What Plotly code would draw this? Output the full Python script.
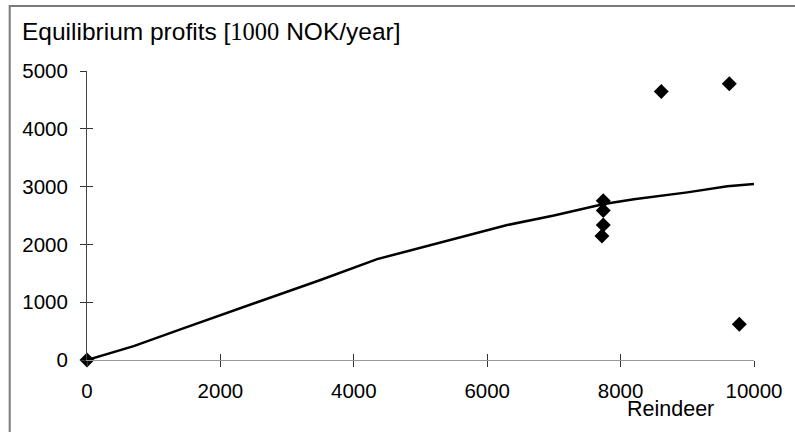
import plotly.graph_objects as go

# Data
curve_x = [0, 700, 1400, 2100, 2800, 3500, 4350, 5000, 5650, 6300, 7000, 7750, 8200, 9000, 9600, 10000]
curve_y = [0, 240, 530, 815, 1100, 1385, 1745, 1940, 2135, 2335, 2500, 2700, 2780, 2900, 3005, 3045]

obs_x = [0, 7740, 7740, 7740, 7720, 8610, 9630, 9780]
obs_y = [0, 2755, 2585, 2335, 2145, 4645, 4780, 620]

x_ticks = [0, 2000, 4000, 6000, 8000, 10000]
y_ticks = [0, 1000, 2000, 3000, 4000, 5000]

title_text = "Equilibrium profits [<span style='font-family:Liberation Serif'>1000</span> NOK/year]"
x_label = "Reindeer"

FONT = "Liberation Sans, Arial, sans-serif"

fig = go.Figure()
fig.add_trace(go.Scatter(x=curve_x, y=curve_y, mode="lines",
                         line=dict(color="black", width=2.5),
                         xaxis="x2", yaxis="y2", showlegend=False, hoverinfo="skip"))
fig.add_trace(go.Scatter(x=obs_x, y=obs_y, mode="markers", cliponaxis=False,
                         marker=dict(symbol="diamond", size=11.5, color="black"),
                         showlegend=False))

fig.update_layout(
    width=795, height=432,
    margin=dict(l=87, r=35, t=71, b=72),
    paper_bgcolor="white", plot_bgcolor="white",
    font=dict(family=FONT, color="black"),
    xaxis=dict(range=[0, 10000], tickvals=x_ticks, tickformat="d", ticks="outside", ticklen=6,
               tickcolor="#333", tickwidth=1, showline=True, linecolor="#999",
               linewidth=1, showgrid=False, zeroline=False,
               tickfont=dict(size=20.5, family=FONT), ticklabelstandoff=6),
    yaxis=dict(range=[0, 5000], tickvals=y_ticks, tickformat="d", ticks="outside", ticklen=6,
               tickcolor="#333", tickwidth=1, showline=True, linecolor="#444",
               linewidth=1, showgrid=False, zeroline=False,
               tickfont=dict(size=20.5, family=FONT), ticklabelstandoff=8),
    xaxis2=dict(range=[0, 10000], tickvals=x_ticks, ticks="inside", ticklen=6,
                tickcolor="#333", tickwidth=1, overlaying="x", showticklabels=False,
                showline=False, showgrid=False, zeroline=False),
    yaxis2=dict(range=[0, 5000], tickvals=y_ticks, ticks="inside", ticklen=6,
                tickcolor="#333", tickwidth=1, overlaying="y", showticklabels=False,
                showline=False, showgrid=False, zeroline=False),
    title=dict(text=title_text, x=22/795, xanchor="left", xref="container",
               y=1 - 31/432, yanchor="middle", yref="container",
               font=dict(size=24.5, family=FONT, color="black")),
    annotations=[dict(text=x_label, xref="paper", yref="paper",
                      x=(676 - 87) / 673, y=-(409 - 360) / 289,
                      xanchor="center", yanchor="middle", showarrow=False,
                      font=dict(size=21.5, family=FONT, color="black"))],
    shapes=[dict(type="rect", xref="paper", yref="paper",
                 x0=(9 - 87) / 673, x1=(805 - 87) / 673,
                 y0=-(445 - 360) / 289, y1=1 + (71 - 6) / 289,
                 line=dict(color="#7a7a7a", width=2), layer="below")],
)

fig.write_html("out.html", config={"displayModeBar": False},
               post_script="document.body.style.margin='0';document.body.style.padding='0';")
